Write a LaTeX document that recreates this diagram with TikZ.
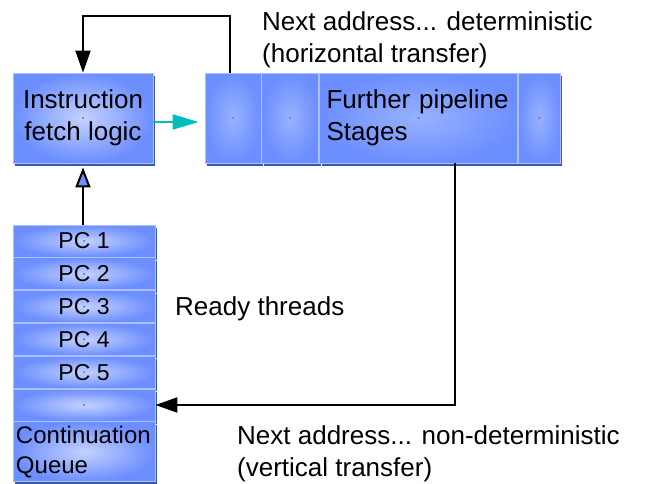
\documentclass[tikz,border=0pt]{standalone}
\usepackage{fontspec}
\setmainfont{Liberation Sans}
\usepackage{tikz}
\usetikzlibrary{arrows.meta, positioning, shadows}

\definecolor{boxedge}{RGB}{108,142,255}
\definecolor{boxmid}{RGB}{196,210,255}
\definecolor{cellmid}{RGB}{152,178,255}
\definecolor{boxline}{RGB}{170,192,255}
\definecolor{boxshade}{RGB}{58,88,168}
\definecolor{dotblue}{RGB}{80,120,240}
\definecolor{tealarrow}{RGB}{0,190,190}

\begin{document}
\begin{tikzpicture}[
  x=1pt, y=-1pt,
  font=\fontsize{26}{32}\selectfont,
  blockbox/.style={rectangle, draw=boxline, line width=0.8pt, inner color=boxmid, outer color=boxedge, align=center,
    drop shadow={shadow xshift=2pt, shadow yshift=-3pt, fill=boxshade, opacity=1}},
  dotted centre/.style={path picture={\fill[dotblue] (path picture bounding box.center) circle (1.2pt);}},
  stagecell/.style={blockbox, dotted centre, inner color=cellmid, minimum height=90pt},
  pcrow/.style={blockbox, dotted centre, minimum width=142pt, minimum height=32pt, font=\fontsize{23}{28}\selectfont},
  note/.style={align=left, anchor=north west, inner sep=0pt},
  link/.style={-{Triangle[length=22pt, width=15pt]}, line width=2pt, black},
  feed/.style={-{Triangle[length=26pt, width=15pt]}, line width=2pt, tealarrow},
  pop/.style={-{Triangle[open, length=20pt, width=15pt, fill=boxedge]}, line width=2pt, black}
]
\useasboundingbox (0,0) rectangle (645,483);

% fetch unit
\node[blockbox, dotted centre, minimum width=140pt, minimum height=90pt] (fetch) at (83,118) {Instruction\\fetch logic};

% pipeline
\node[stagecell, minimum width=56pt] (stage1) at (233,118) {};
\node[stagecell, minimum width=57pt, right=0pt of stage1] (stage2) {};
\node[stagecell, minimum width=198pt, text width=184pt, align=left, right=0pt of stage2] (stage3) {Further pipeline\\Stages};
\node[stagecell, minimum width=42pt, right=0pt of stage3] (stage4) {};

% thread queue
\node[pcrow] (pc1) at (84,241) {PC 1};
\node[pcrow, below=0pt of pc1] (pc2) {PC 2};
\node[pcrow, below=0pt of pc2] (pc3) {PC 3};
\node[pcrow, below=0pt of pc3] (pc4) {PC 4};
\node[pcrow, below=0pt of pc4] (pc5) {PC 5};
\node[pcrow, below=0pt of pc5] (pc6) {};
\node[blockbox, minimum width=142pt, minimum height=60pt, text width=136pt, align=left, inner sep=3pt,
  font=\fontsize{24}{30}\selectfont, below=0pt of pc6] (contq) {Continuation\\Queue};

% labels
\node[note] (horiz) at (262,11) {Next address... deterministic\\(horizontal transfer)};
\node[anchor=west, inner sep=0pt] (ready) at (175,309) {Ready threads};
\node[note] (vert) at (237,425) {Next address... non-deterministic\\(vertical transfer)};

% connectors
\draw[feed, shorten >=6pt] (fetch.east |- 0,122) -- (stage1.west |- 0,122);
\draw[link] ([xshift=-3pt]stage1.north) -- ++(0,-57) -| (fetch.north);
\draw[pop] (pc1.north -| fetch.south) -- ([yshift=-4pt]fetch.south);
\draw[link] ([xshift=36pt]stage3.south) |- (pc6.east);

\end{tikzpicture}
\end{document}
